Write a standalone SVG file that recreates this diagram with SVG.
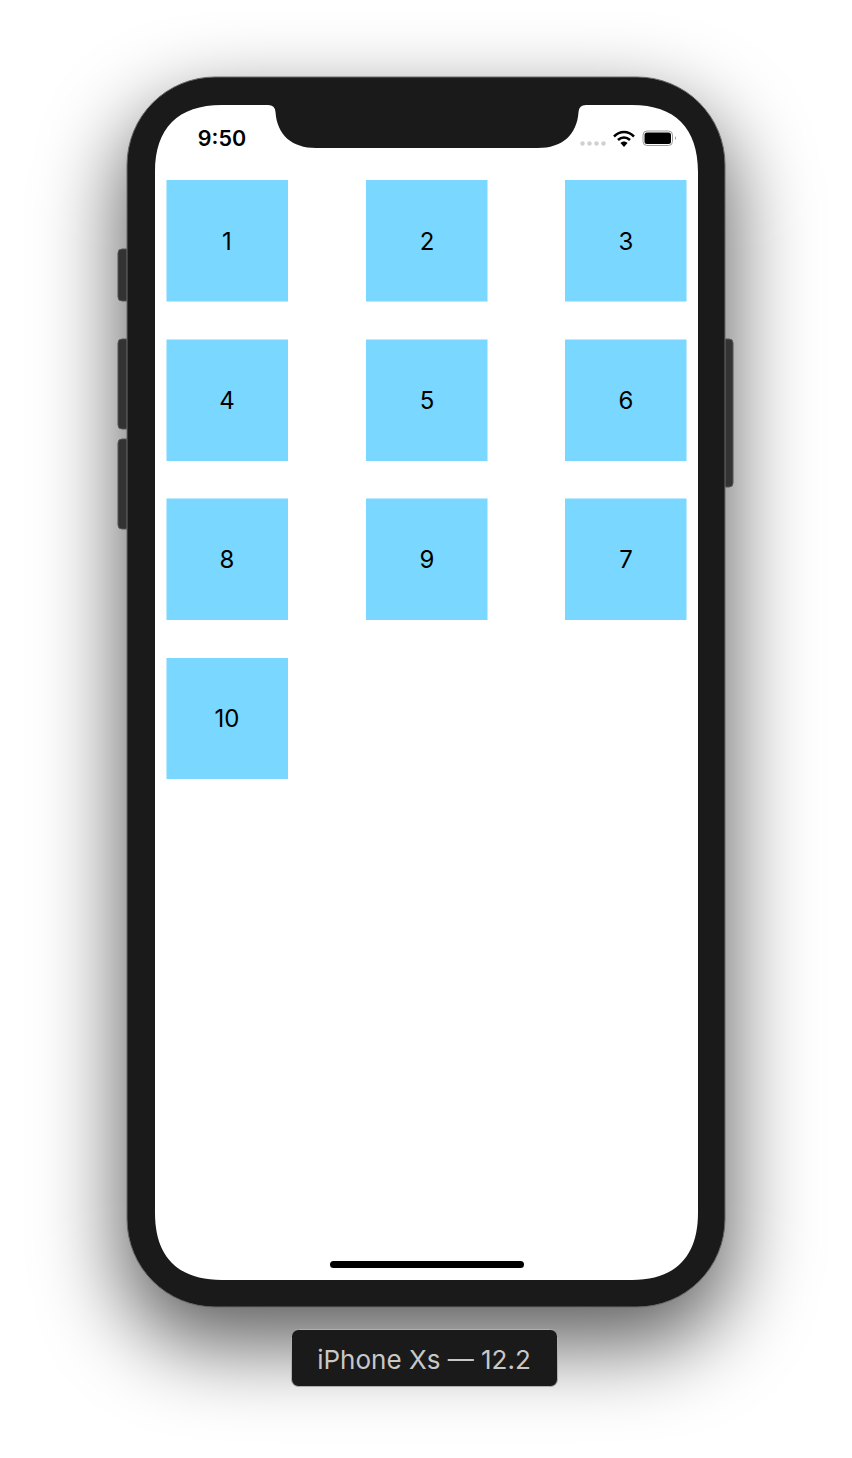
<svg xmlns="http://www.w3.org/2000/svg" width="852" height="1458" viewBox="0 0 852 1458">
<defs>
<filter id="shadow" x="-40%" y="-25%" width="180%" height="150%"><feGaussianBlur stdDeviation="42"/></filter>
</defs>
<style>
.tile{fill:#7ad7ff}
.num{font-family:Inter,"Liberation Sans",sans-serif;font-size:24px;fill:#000;text-anchor:middle}
.btn{fill:#333;stroke:#555;stroke-width:1}
</style>
<rect width="852" height="1458" fill="#fff"/>
<g id="shadow-layer">
<rect x="122" y="108" width="608" height="1237" rx="90" fill="#000" fill-opacity="0.63" filter="url(#shadow)"/>
</g>
<g id="phone">
<rect x="118" y="249" width="12" height="52" rx="4" class="btn"/>
<rect x="118" y="339" width="12" height="90" rx="4" class="btn"/>
<rect x="118" y="439" width="12" height="90" rx="4" class="btn"/>
<rect x="722" y="339" width="11" height="148" rx="4" class="btn"/>
<rect x="127" y="77" width="598" height="1230" rx="88" fill="#1a1a1a" stroke="#6a6a6a" stroke-width="1"/>
<path id="screen" fill="#fff" d="M155 172C155 128 178 105 222 105H268Q275 105 275.500 112C277 135 292 148 316 148H538C562 148 577 135 578.500 112Q579 105 586 105H632C675 105 698 128 698 172V1213C698 1257 675 1280 632 1280H222C178 1280 155 1257 155 1213Z"/>
</g>
<g id="status-bar">
<text x="222" y="146" font-family="Inter,'Liberation Sans',sans-serif" font-size="21.500" font-weight="600" text-anchor="middle" fill="#000">9:50</text>
<g fill="#d0d0d0"><circle cx="582.500" cy="143.500" r="2.200"/><circle cx="589.500" cy="143.500" r="2.200"/><circle cx="596.500" cy="143.500" r="2.200"/><circle cx="603.500" cy="143.500" r="2.200"/></g>
<g fill="none" stroke="#000" stroke-width="2.500"><path d="M614 136.500C620 130.500 628 130.500 634 136.500"/><path d="M618 140C621.500 136.500 626.500 136.500 630 140"/></g>
<path d="M620.500 143C622.500 141 625.500 141 627.500 143L624 147Z" fill="#000"/>
<rect x="643" y="131" width="29.500" height="14.500" rx="4" fill="none" stroke="#9a9a9a" stroke-width="1"/>
<rect x="644.500" y="132.500" width="26.500" height="11.500" rx="2.500" fill="#000"/>
<path d="M675 136Q677 138 675 140Z" fill="#9a9a9a"/>
</g>
<g id="tile-1"><rect class="tile" x="166.500" y="180" width="121.500" height="121.500"/><text class="num" x="227" y="250">1</text></g>
<g id="tile-2"><rect class="tile" x="366" y="180" width="121.500" height="121.500"/><text class="num" x="427" y="250">2</text></g>
<g id="tile-3"><rect class="tile" x="565" y="180" width="121.500" height="121.500"/><text class="num" x="626" y="250">3</text></g>
<g id="tile-4"><rect class="tile" x="166.500" y="339.500" width="121.500" height="121.500"/><text class="num" x="227" y="409">4</text></g>
<g id="tile-5"><rect class="tile" x="366" y="339.500" width="121.500" height="121.500"/><text class="num" x="427" y="409">5</text></g>
<g id="tile-6"><rect class="tile" x="565" y="339.500" width="121.500" height="121.500"/><text class="num" x="626" y="409">6</text></g>
<g id="tile-8"><rect class="tile" x="166.500" y="498.500" width="121.500" height="121.500"/><text class="num" x="227" y="568">8</text></g>
<g id="tile-9"><rect class="tile" x="366" y="498.500" width="121.500" height="121.500"/><text class="num" x="427" y="568">9</text></g>
<g id="tile-7"><rect class="tile" x="565" y="498.500" width="121.500" height="121.500"/><text class="num" x="626" y="568">7</text></g>
<g id="tile-10"><rect class="tile" x="166.500" y="658" width="121.500" height="121"/><text class="num" x="227" y="727">10</text></g>
<rect id="home-indicator" x="330" y="1261" width="194" height="7" rx="3.500" fill="#000"/>
<g id="device-label">
<rect x="291.500" y="1329.500" width="266" height="57" rx="7" fill="#1a1a1a" stroke="#b0b0b0" stroke-width="1"/>
<text x="424" y="1369" font-family="Inter,'Liberation Sans',sans-serif" font-size="26" text-anchor="middle" fill="#c8c8c8">iPhone Xs — 12.2</text>
</g>
</svg>
